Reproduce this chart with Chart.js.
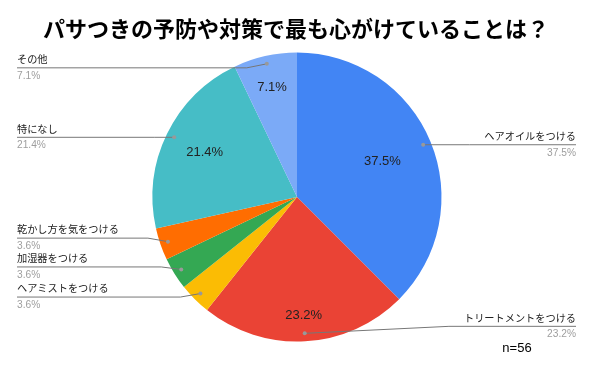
<!DOCTYPE html>
<html>
<head>
<meta charset="utf-8">
<script src="https://cdn.jsdelivr.net/npm/chart.js@4/dist/chart.umd.min.js"></script>
<style>
html,body{margin:0;padding:0;background:#fff;}
canvas{display:block;}
</style>
</head>
<body>
<canvas id="c" width="600" height="381"></canvas>
<script>
const chartTitle = 'パサつきの予防や対策で最も心がけていることは？';
const categories = ['ヘアオイルをつける','トリートメントをつける','ヘアミストをつける','加湿器をつける','乾かし方を気をつける','特になし','その他'];
const values = [37.5, 23.2, 3.6, 3.6, 3.6, 21.4, 7.1];
const percentLabels = ['37.5%','23.2%','3.6%','3.6%','3.6%','21.4%','7.1%'];
const sampleNote = 'n=56';

const colors = ['#4285F4','#EA4335','#FBBC04','#34A853','#FF6D01','#46BDC6','#7BAAF7'];
const FONT = '"Liberation Sans", "Noto Sans CJK JP", sans-serif';

const calloutPlugin = {
  id: 'callouts',
  afterDraw(chart, args, opts) {
    const ctx = chart.ctx;
    const meta = chart.getDatasetMeta(0);
    ctx.save();
    // title
    ctx.fillStyle = '#000';
    ctx.font = 'bold 22px "Noto Sans CJK JP", "Liberation Sans", sans-serif';
    ctx.textAlign = 'center';
    ctx.textBaseline = 'middle';
    ctx.fillText(chartTitle, 296, 29);

    meta.data.forEach((arc, i) => {
      const p = arc.getProps(['x','y','startAngle','endAngle','outerRadius'], true);
      const mid = (p.startAngle + p.endAngle) / 2;
      const r = p.outerRadius;
      // inner label
      if (values[i] >= 5) {
        const f = opts.innerFrac[i];
        ctx.font = '13px ' + FONT;
        ctx.fillStyle = '#222';
        ctx.textAlign = 'center';
        ctx.textBaseline = 'middle';
        ctx.fillText(percentLabels[i], p.x + Math.cos(mid) * r * f, p.y + Math.sin(mid) * r * f);
      }
      // callout
      const dx = p.x + Math.cos(mid) * r * 0.945;
      const dy = p.y + Math.sin(mid) * r * 0.945;
      const lineY = dy + opts.lineDy[i];
      ctx.font = '10.2px ' + FONT;
      const tw = ctx.measureText(categories[i]).width;
      const right = Math.cos(mid) >= 0;
      ctx.strokeStyle = '#777';
      ctx.lineWidth = 1;
      ctx.beginPath();
      if (right) {
        const knee = Math.max(dx, 576 - tw - 15);
        ctx.moveTo(dx, dy);
        ctx.lineTo(knee, lineY);
        ctx.lineTo(576, lineY);
      } else {
        const knee = dx - 20;
        ctx.moveTo(dx, dy);
        ctx.lineTo(knee, lineY);
        ctx.lineTo(17, lineY);
      }
      ctx.stroke();
      ctx.fillStyle = '#999';
      ctx.beginPath();
      ctx.arc(dx, dy, 2, 0, Math.PI * 2);
      ctx.fill();
      ctx.textBaseline = 'middle';
      ctx.textAlign = right ? 'right' : 'left';
      const tx = right ? 576 : 17;
      ctx.fillStyle = '#222';
      ctx.fillText(categories[i], tx, lineY - 7.5);
      ctx.font = '10.2px ' + FONT;
      ctx.fillStyle = '#9e9e9e';
      ctx.fillText(percentLabels[i], tx, lineY + 8);
    });

    ctx.font = '13px ' + FONT;
    ctx.fillStyle = '#000';
    ctx.textAlign = 'center';
    ctx.textBaseline = 'middle';
    ctx.fillText(sampleNote, 517, 348);
    ctx.restore();
  }
};

new Chart(document.getElementById('c'), {
  type: 'pie',
  data: {
    labels: categories,
    datasets: [{
      data: values,
      backgroundColor: colors,
      borderWidth: 0
    }]
  },
  options: {
    responsive: false,
    animation: false,
    layout: { padding: { left: 152.5, right: 158.5, top: 52.5, bottom: 39.5 } },
    plugins: {
      legend: { display: false },
      tooltip: { enabled: false },
      title: { display: false },
      callouts: {
        innerFrac: [0.64, 0.82, 0, 0, 0, 0.71, 0.78],
        lineDy: [0, -7, 3.5, -2.5, -3.5, 0, 4]
      }
    }
  },
  plugins: [calloutPlugin]
});
</script>
</body>
</html>
